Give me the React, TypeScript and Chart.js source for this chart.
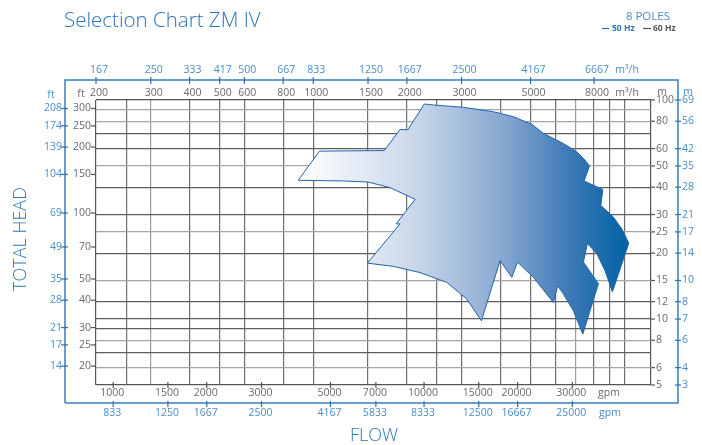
import React, { useEffect, useRef } from "react";
import { Chart, registerables } from "chart.js";

Chart.register(...registerables);

// ---- data ----
// Envelope of the selection range (flow in m³/h at 60 Hz, head in m)
const ENVELOPE_Q = [
  895, 1046, 1693, 1902, 2013, 2277, 2434, 3040, 3797, 4403, 5046, 5499,
  6376, 7044, 7488, 7732, 7432, 8540, 8414, 9234, 9828, 10352, 9166, 8682,
  8166, 7616, 7396, 8264, 7362, 6866, 6376, 6116, 5920, 5106, 4536, 4352,
  3990, 3474, 3116, 2688, 2205, 1810, 1493, 1902, 1847, 2126, 1766, 1504,
  1250, 895,
];
const ENVELOPE_H = [
  43.0, 58.4, 58.8, 73.4, 73.1, 95.9, 94.9, 92.6, 88.4, 83.9, 77.4, 70.4,
  63.3, 58.0, 53.1, 49.9, 42.7, 39.0, 33.0, 29.2, 25.8, 22.2, 13.3, 16.6,
  19.9, 22.1, 18.2, 14.5, 8.54, 10.9, 13.0, 14.2, 11.9, 15.5, 18.2, 15.5,
  18.5, 9.82, 12.35, 14.7, 16.3, 17.4, 18.0, 27.2, 27.2, 35.2, 39.8, 42.2,
  42.7, 43.0,
];

// axis ranges
const FLOW_MIN = 200;
const FLOW_MAX = 12200;
const HEAD_MIN = 5;
const HEAD_MAX = 100;

// grid lines
const GRID_FLOW = [200, 250, 300, 400, 500, 600, 800, 1000, 1500, 2000, 2500, 3000, 4000, 5000, 6000, 7000, 8000, 9000, 10000, 12200];
const GRID_HEAD = [5, 6, 7, 8, 9, 10, 12, 15, 20, 25, 30, 40, 50, 60, 70, 80, 90, 100];
const LIGHT_FLOW = [300, 7000];
const LIGHT_HEAD = [90, 80, 50, 25, 15, 8, 6];

// tick labels
const FLOW_60_TICKS = [200, 300, 400, 500, 600, 800, 1000, 1500, 2000, 3000, 5000, 8000];
const FLOW_50_LABELS = ["167", "250", "333", "417", "500", "667", "833", "1250", "1667", "2500", "4167", "6667"];
const GPM_60_TICKS = [1000, 1500, 2000, 3000, 5000, 7000, 10000, 15000, 20000, 30000];
const GPM_50_LABELS = ["833", "1250", "1667", "2500", "4167", "5833", "8333", "12500", "16667", "25000"];
const HEAD_FT_TICKS = [300, 250, 200, 150, 100, 70, 50, 40, 30, 25, 20];
const HEAD_FT_50_LABELS = ["208", "174", "139", "104", "69", "49", "35", "28", "21", "17", "14"];
const HEAD_M_TICKS = [100, 80, 60, 50, 40, 30, 25, 20, 15, 12, 10, 8, 6, 5];
const HEAD_M_50_LABELS = ["69", "56", "42", "35", "28", "21", "17", "14", "10", "8", "7", "6", "4", "3"];

const GPM_PER_M3H = 4.403;
const M_PER_FT = 0.3048;

const BLUE = "#4a8cc6";
const BLUE_DARK = "#2e74b5";
const GREY = "#6a6a6a";
const FONT = "'Open Sans', 'Noto Sans', sans-serif";

const textPlugin = {
  id: "axesText",
  afterDraw(chart: any) {
    const { ctx, scales, chartArea: a } = chart;
    const xs = scales.x;
    const ys = scales.y;
    ctx.save();

    // blue outer frame
    const bl = a.left - 31, bt = a.top - 20, br = a.right + 27, bb = a.bottom + 18;
    ctx.strokeStyle = "#3a7dbd";
    ctx.lineWidth = 1.5;
    ctx.beginPath();
    ctx.moveTo(bl, bb);
    ctx.lineTo(bl, bt);
    ctx.lineTo(br, bt);
    ctx.lineTo(br, bb);
    ctx.lineTo(bl, bb);
    ctx.stroke();

    ctx.font = `10.5px ${FONT}`;
    ctx.lineWidth = 1.2;

    // top: black m³/h (60 Hz) and blue (50 Hz)
    ctx.textAlign = "center";
    ctx.textBaseline = "middle";
    FLOW_60_TICKS.forEach((v, i) => {
      const px = xs.getPixelForValue(v);
      ctx.fillStyle = GREY;
      ctx.fillText(String(v), px + 3, a.top - 7);
      ctx.fillStyle = BLUE;
      ctx.fillText(FLOW_50_LABELS[i], px + 3, bt - 10);
      ctx.strokeStyle = "#2e6fae";
      ctx.beginPath();
      ctx.moveTo(px, bt - 3);
      ctx.lineTo(px, bt + 4);
      ctx.stroke();
    });
    ctx.fillStyle = GREY;
    ctx.fillText("m³/h", 627, a.top - 7);
    ctx.fillStyle = BLUE;
    ctx.fillText("m³/h", 627, bt - 10);

    // bottom: gpm
    GPM_60_TICKS.forEach((v, i) => {
      const px = xs.getPixelForValue(v / GPM_PER_M3H);
      ctx.strokeStyle = "#555";
      ctx.beginPath();
      ctx.moveTo(px, a.bottom - 3);
      ctx.lineTo(px, a.bottom + 3);
      ctx.stroke();
      ctx.fillStyle = GREY;
      ctx.fillText(String(v), px - 1, a.bottom + 8);
      ctx.strokeStyle = "#2e6fae";
      ctx.beginPath();
      ctx.moveTo(px, bb - 2);
      ctx.lineTo(px, bb + 4);
      ctx.stroke();
      ctx.fillStyle = BLUE;
      ctx.fillText(GPM_50_LABELS[i], px - 1, bb + 10);
    });
    ctx.fillStyle = GREY;
    ctx.fillText("gpm", 609, a.bottom + 8);
    ctx.fillStyle = BLUE;
    ctx.fillText("gpm", 610, bb + 10);

    // left: ft
    ctx.textAlign = "right";
    HEAD_FT_TICKS.forEach((v, i) => {
      const py = ys.getPixelForValue(v * M_PER_FT);
      ctx.strokeStyle = "#555";
      ctx.beginPath();
      ctx.moveTo(a.left - 5, py);
      ctx.lineTo(a.left, py);
      ctx.stroke();
      ctx.fillStyle = GREY;
      ctx.fillText(String(v), a.left - 5, py);
      ctx.strokeStyle = "#2e6fae";
      ctx.beginPath();
      ctx.moveTo(bl - 4, py);
      ctx.lineTo(bl + 3, py);
      ctx.stroke();
      ctx.fillStyle = BLUE;
      ctx.fillText(HEAD_FT_50_LABELS[i], bl - 3, py);
    });
    ctx.textAlign = "center";
    ctx.fillStyle = GREY;
    ctx.fillText("ft", 81, a.top - 6);
    ctx.fillStyle = BLUE;
    ctx.fillText("ft", 51, a.top - 5);

    // right: m
    ctx.textAlign = "left";
    HEAD_M_TICKS.forEach((v, i) => {
      const py = ys.getPixelForValue(v);
      ctx.strokeStyle = "#555";
      ctx.beginPath();
      ctx.moveTo(a.right, py);
      ctx.lineTo(a.right + 4, py);
      ctx.stroke();
      ctx.fillStyle = GREY;
      ctx.fillText(String(v), a.right + 5, py);
      ctx.strokeStyle = "#2e6fae";
      ctx.beginPath();
      ctx.moveTo(br - 3, py);
      ctx.lineTo(br + 3, py);
      ctx.stroke();
      ctx.fillStyle = BLUE;
      ctx.fillText(HEAD_M_50_LABELS[i], br + 4, py);
    });
    ctx.textAlign = "center";
    ctx.fillStyle = GREY;
    ctx.fillText("m", 662, a.top - 8);
    ctx.fillStyle = BLUE;
    ctx.fillText("m", 688, a.top - 8);

    // titles
    ctx.fillStyle = BLUE_DARK;
    ctx.textAlign = "left";
    ctx.font = `300 20.5px ${FONT}`;
    ctx.fillText("Selection Chart ZM IV", 64, 21);

    ctx.textAlign = "center";
    ctx.font = `300 18px ${FONT}`;
    ctx.fillText("FLOW", 374, 436);
    ctx.save();
    ctx.translate(21, 239);
    ctx.rotate(-Math.PI / 2);
    ctx.fillText("TOTAL HEAD", 0, 0);
    ctx.restore();

    ctx.fillStyle = BLUE;
    ctx.textAlign = "right";
    ctx.font = `11.5px ${FONT}`;
    ctx.fillText("8 POLES", 670, 17);

    ctx.font = `bold 8.5px ${FONT}`;
    ctx.textAlign = "left";
    ctx.lineWidth = 1.2;
    ctx.strokeStyle = BLUE_DARK;
    ctx.beginPath();
    ctx.moveTo(602, 28.5);
    ctx.lineTo(609, 28.5);
    ctx.stroke();
    ctx.fillStyle = BLUE_DARK;
    ctx.fillText("50 Hz", 612, 29);
    ctx.strokeStyle = "#555";
    ctx.beginPath();
    ctx.moveTo(643, 28.5);
    ctx.lineTo(651, 28.5);
    ctx.stroke();
    ctx.fillStyle = "#555";
    ctx.fillText("60 Hz", 653, 29);

    ctx.restore();
  },
};

export default function App() {
  const ref = useRef<HTMLCanvasElement | null>(null);

  useEffect(() => {
    if (!ref.current) return;
    const points = ENVELOPE_Q.map((q, i) => ({ x: q, y: ENVELOPE_H[i] }));
    const chart = new Chart(ref.current, {
      type: "line",
      data: {
        datasets: [
          {
            data: points,
            borderColor: "#1f64a8",
            borderWidth: 1,
            pointRadius: 0,
            tension: 0,
            fill: "shape",
            backgroundColor: (c: any) => {
              const ch = c.chart;
              const area = ch.chartArea;
              if (!area) return "#7fa2cd";
              const x0 = ch.scales.x.getPixelForValue(900);
              const x1 = ch.scales.x.getPixelForValue(10400);
              const g = ch.ctx.createLinearGradient(x0, 0, x1, 0);
              g.addColorStop(0, "#ffffff");
              g.addColorStop(0.35, "#cad7ea");
              g.addColorStop(0.62, "#86a7d0");
              g.addColorStop(0.82, "#3e79b6");
              g.addColorStop(1, "#0062a4");
              return g;
            },
          } as any,
        ],
      },
      options: {
        responsive: false,
        animation: false,
        layout: { padding: { left: 96, top: 100, right: 51, bottom: 60 } },
        plugins: { legend: { display: false }, tooltip: { enabled: false } },
        scales: {
          x: {
            type: "logarithmic",
            min: FLOW_MIN,
            max: FLOW_MAX,
            afterBuildTicks: (s: any) => {
              s.ticks = GRID_FLOW.map((v) => ({ value: v }));
            },
            ticks: { display: false },
            border: { display: false },
            grid: {
              drawTicks: false,
              lineWidth: 1.2,
              color: (c: any) => {
                const v = c.tick && c.tick.value;
                if (v === FLOW_MIN || v === FLOW_MAX) return "#555";
                return LIGHT_FLOW.includes(v) ? "#9c9c9c" : "#6e6e6e";
              },
            },
          },
          y: {
            type: "logarithmic",
            min: HEAD_MIN,
            max: HEAD_MAX,
            afterBuildTicks: (s: any) => {
              s.ticks = GRID_HEAD.map((v) => ({ value: v }));
            },
            ticks: { display: false },
            border: { display: false },
            grid: {
              drawTicks: false,
              lineWidth: 1.2,
              color: (c: any) => {
                const v = c.tick && c.tick.value;
                if (v === HEAD_MIN || v === HEAD_MAX) return "#555";
                return LIGHT_HEAD.includes(v) ? "#a5a5a5" : "#5e5e5e";
              },
            },
          },
        },
      } as any,
      plugins: [textPlugin],
    });
    return () => chart.destroy();
  }, []);

  return (
    <div style={{ position: "absolute", left: 0, top: 0, width: 702, height: 445, background: "#fff" }}>
      <canvas ref={ref} width={702} height={445} style={{ width: 702, height: 445, display: "block" }} />
    </div>
  );
}
